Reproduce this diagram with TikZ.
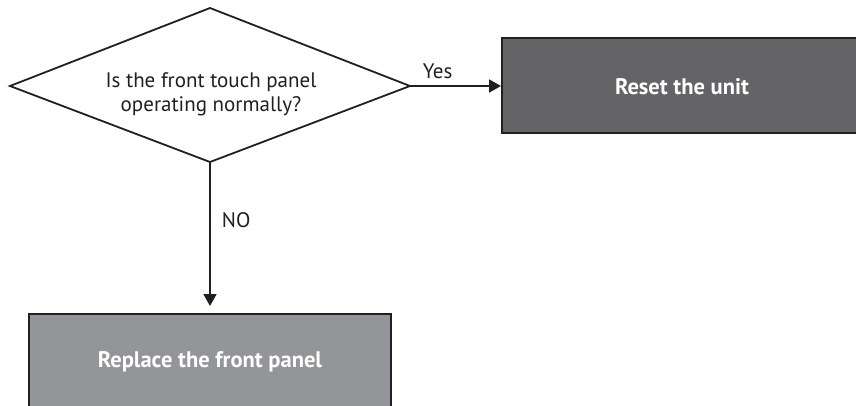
\documentclass[tikz,border=0pt]{standalone}
\usepackage{fontspec}
\setmainfont{PT Sans}
\usetikzlibrary{arrows.meta,shapes.geometric}
\definecolor{darkbox}{HTML}{646466}
\definecolor{lightbox}{HTML}{939598}
\definecolor{ink}{HTML}{231F20}
\tikzset{
  conn/.style={draw=ink,line width=1.8pt,-{Triangle[length=12pt,width=13pt]}},
  actbox/.style={draw=ink,line width=2pt,text=white,font=\fontsize{22.5}{26}\selectfont\bfseries},
  lbl/.style={text=ink,font=\fontsize{21}{24}\selectfont,inner sep=0pt},
}
\begin{document}
\begin{tikzpicture}[x=1pt,y=-1pt]
\useasboundingbox (0,0) rectangle (856,405);
\clip (0,0) rectangle (856,405);
\fill[white] (0,0) rectangle (856,405);
% decision diamond
\coordinate (dL) at (10,86);
\coordinate (dT) at (210,8);
\coordinate (dR) at (410,86);
\coordinate (dB) at (210,162);
\draw[ink,line width=1.8pt,line join=miter] (dL) -- (dT) -- (dR) -- (dB) -- cycle;
\node[lbl,align=center] (q) at (211,94) {Is the front touch panel\\operating normally?};
% boxes
\draw[actbox,fill=darkbox] (502,38) rectangle (870,133);
\node[actbox,draw=none] (reset) at (682,87) {Reset the unit};
\coordinate (resetW) at (502,86);
\draw[actbox,fill=lightbox] (29,314) rectangle (391,420);
\node[actbox,draw=none] (replace) at (210,362) {Replace the front panel};
\coordinate (replaceN) at (210,314);
% connectors
\draw[conn,shorten >=1pt] (dR) -- (resetW) node[lbl,pos=0.3,above=6pt] (yes) {Yes};
\draw[conn,shorten >=8pt] (dB) -- (replaceN) node[lbl,pos=0.38,right=11pt] (no) {NO};
\end{tikzpicture}
\end{document}
